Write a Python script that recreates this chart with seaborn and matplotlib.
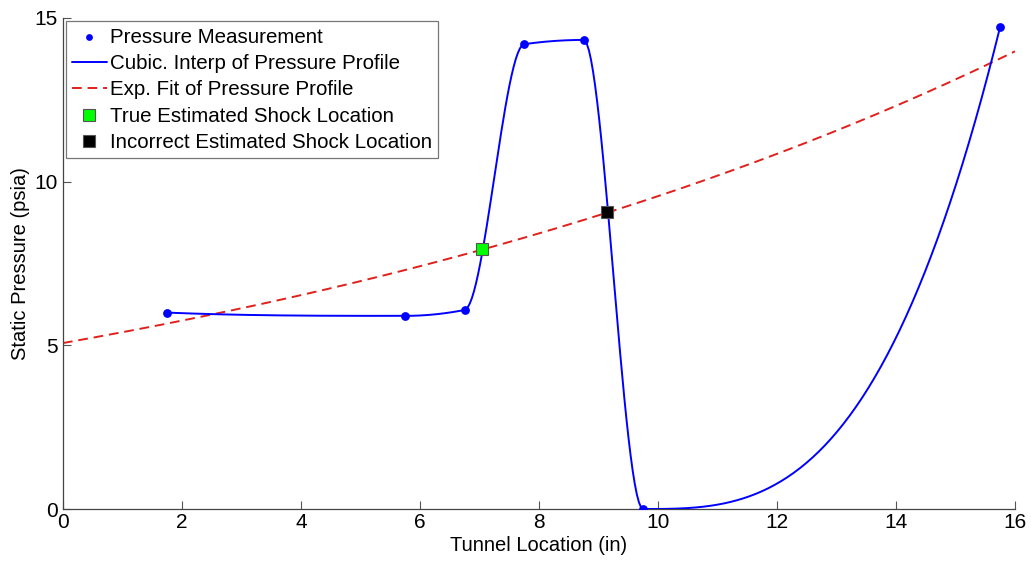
import numpy as np
import pandas as pd
import matplotlib
matplotlib.use("Agg")
import matplotlib.pyplot as plt
import seaborn as sns

# Measured static pressures along the tunnel
location_in = [1.75, 5.75, 6.75, 7.75, 8.75, 9.75, 15.75]
pressure_psia = [6.0, 5.9, 6.08, 14.2, 14.33, 0.0, 14.73]

# Exponential fit p = a * exp(b * x)
fit_a = 5.07
fit_b = 0.0634

# Shock location estimates
true_shock = (7.04, 7.94)
incorrect_shock = (9.14, 9.08)


def pchip(x, y, xs):
    """Shape-preserving piecewise cubic Hermite interpolation."""
    x = np.asarray(x, float)
    y = np.asarray(y, float)
    h = np.diff(x)
    delta = np.diff(y) / h
    n = len(x)
    d = np.zeros(n)
    for k in range(1, n - 1):
        if delta[k - 1] * delta[k] > 0:
            w1 = 2 * h[k] + h[k - 1]
            w2 = h[k] + 2 * h[k - 1]
            d[k] = (w1 + w2) / (w1 / delta[k - 1] + w2 / delta[k])

    def end_slope(h0, h1, d0, d1):
        s = ((2 * h0 + h1) * d0 - h0 * d1) / (h0 + h1)
        if np.sign(s) != np.sign(d0):
            s = 0.0
        elif np.sign(d0) != np.sign(d1) and abs(s) > abs(3 * d0):
            s = 3 * d0
        return s

    d[0] = end_slope(h[0], h[1], delta[0], delta[1])
    d[-1] = end_slope(h[-1], h[-2], delta[-1], delta[-2])
    idx = np.clip(np.searchsorted(x, xs) - 1, 0, n - 2)
    t = (xs - x[idx]) / h[idx]
    h00 = 2 * t**3 - 3 * t**2 + 1
    h10 = t**3 - 2 * t**2 + t
    h01 = -2 * t**3 + 3 * t**2
    h11 = t**3 - t**2
    return (h00 * y[idx] + h10 * h[idx] * d[idx]
            + h01 * y[idx + 1] + h11 * h[idx] * d[idx + 1])


sns.set_style("white")
plt.rcParams["font.family"] = ["Liberation Sans", "DejaVu Sans"]
plt.rcParams["text.color"] = "black"
plt.rcParams["axes.labelcolor"] = "black"

fig = plt.figure(figsize=(10.31, 5.62), dpi=100)
ax = fig.add_axes([0.0611, 0.0943, 0.9234, 0.8737])

xs = np.linspace(location_in[0], location_in[-1], 400)
interp = pd.DataFrame({"x": xs, "p": pchip(location_in, pressure_psia, xs)})
xf = np.linspace(0, 16, 200)
fit = pd.DataFrame({"x": xf, "p": fit_a * np.exp(fit_b * xf)})
meas = pd.DataFrame({"x": location_in, "p": pressure_psia})

sns.scatterplot(data=meas, x="x", y="p", ax=ax, color="#0000ff", s=40,
                edgecolor="#0000ff", linewidth=0, zorder=4,
                label="Pressure Measurement")
sns.lineplot(data=interp, x="x", y="p", ax=ax, color="#0000ff", linewidth=1.4,
             zorder=3, label="Cubic. Interp of Pressure Profile")
sns.lineplot(data=fit, x="x", y="p", ax=ax, color="#e0201b", linewidth=1.4,
             linestyle=(0, (5, 3)), zorder=2, label="Exp. Fit of Pressure Profile")
ax.plot([true_shock[0]], [true_shock[1]], "s", color="#00ff00", markersize=8,
        markeredgecolor="#555555", markeredgewidth=0.8, zorder=5,
        label="True Estimated Shock Location")
ax.plot([incorrect_shock[0]], [incorrect_shock[1]], "s", color="#000000",
        markersize=8, markeredgecolor="#555555", markeredgewidth=0.8, zorder=5,
        label="Incorrect Estimated Shock Location")

ax.set_xlim(0, 16)
ax.set_ylim(0, 15)
ax.set_xticks(range(0, 17, 2))
ax.set_yticks([0, 5, 10, 15])
ax.set_xlabel("Tunnel Location (in)", fontsize=14.5, labelpad=3, color="black")
ax.set_ylabel("Static Pressure (psia)", fontsize=14.5, labelpad=3, color="black")
ax.tick_params(axis="both", direction="in", length=6, width=0.8,
               color="#555555", labelcolor="black", labelsize=15,
               bottom=True, left=True)
ax.tick_params(axis="x", pad=3)
ax.tick_params(axis="y", pad=4)
for side in ("top", "right"):
    ax.spines[side].set_visible(False)
for side in ("left", "bottom"):
    ax.spines[side].set_color("#444444")
    ax.spines[side].set_linewidth(0.9)

leg = ax.legend(loc="upper left", bbox_to_anchor=(0.003, 0.993), fontsize=14.8,
                frameon=True, fancybox=False, borderpad=0.3, labelspacing=0.36,
                handlelength=1.7, handletextpad=0.15, borderaxespad=0)
leg.get_frame().set_edgecolor("#555555")
leg.get_frame().set_linewidth(0.9)
# smaller dot for the measurement entry
leg.legend_handles[0].set_sizes([24])

fig.savefig("out.png", dpi=100, facecolor="white")
